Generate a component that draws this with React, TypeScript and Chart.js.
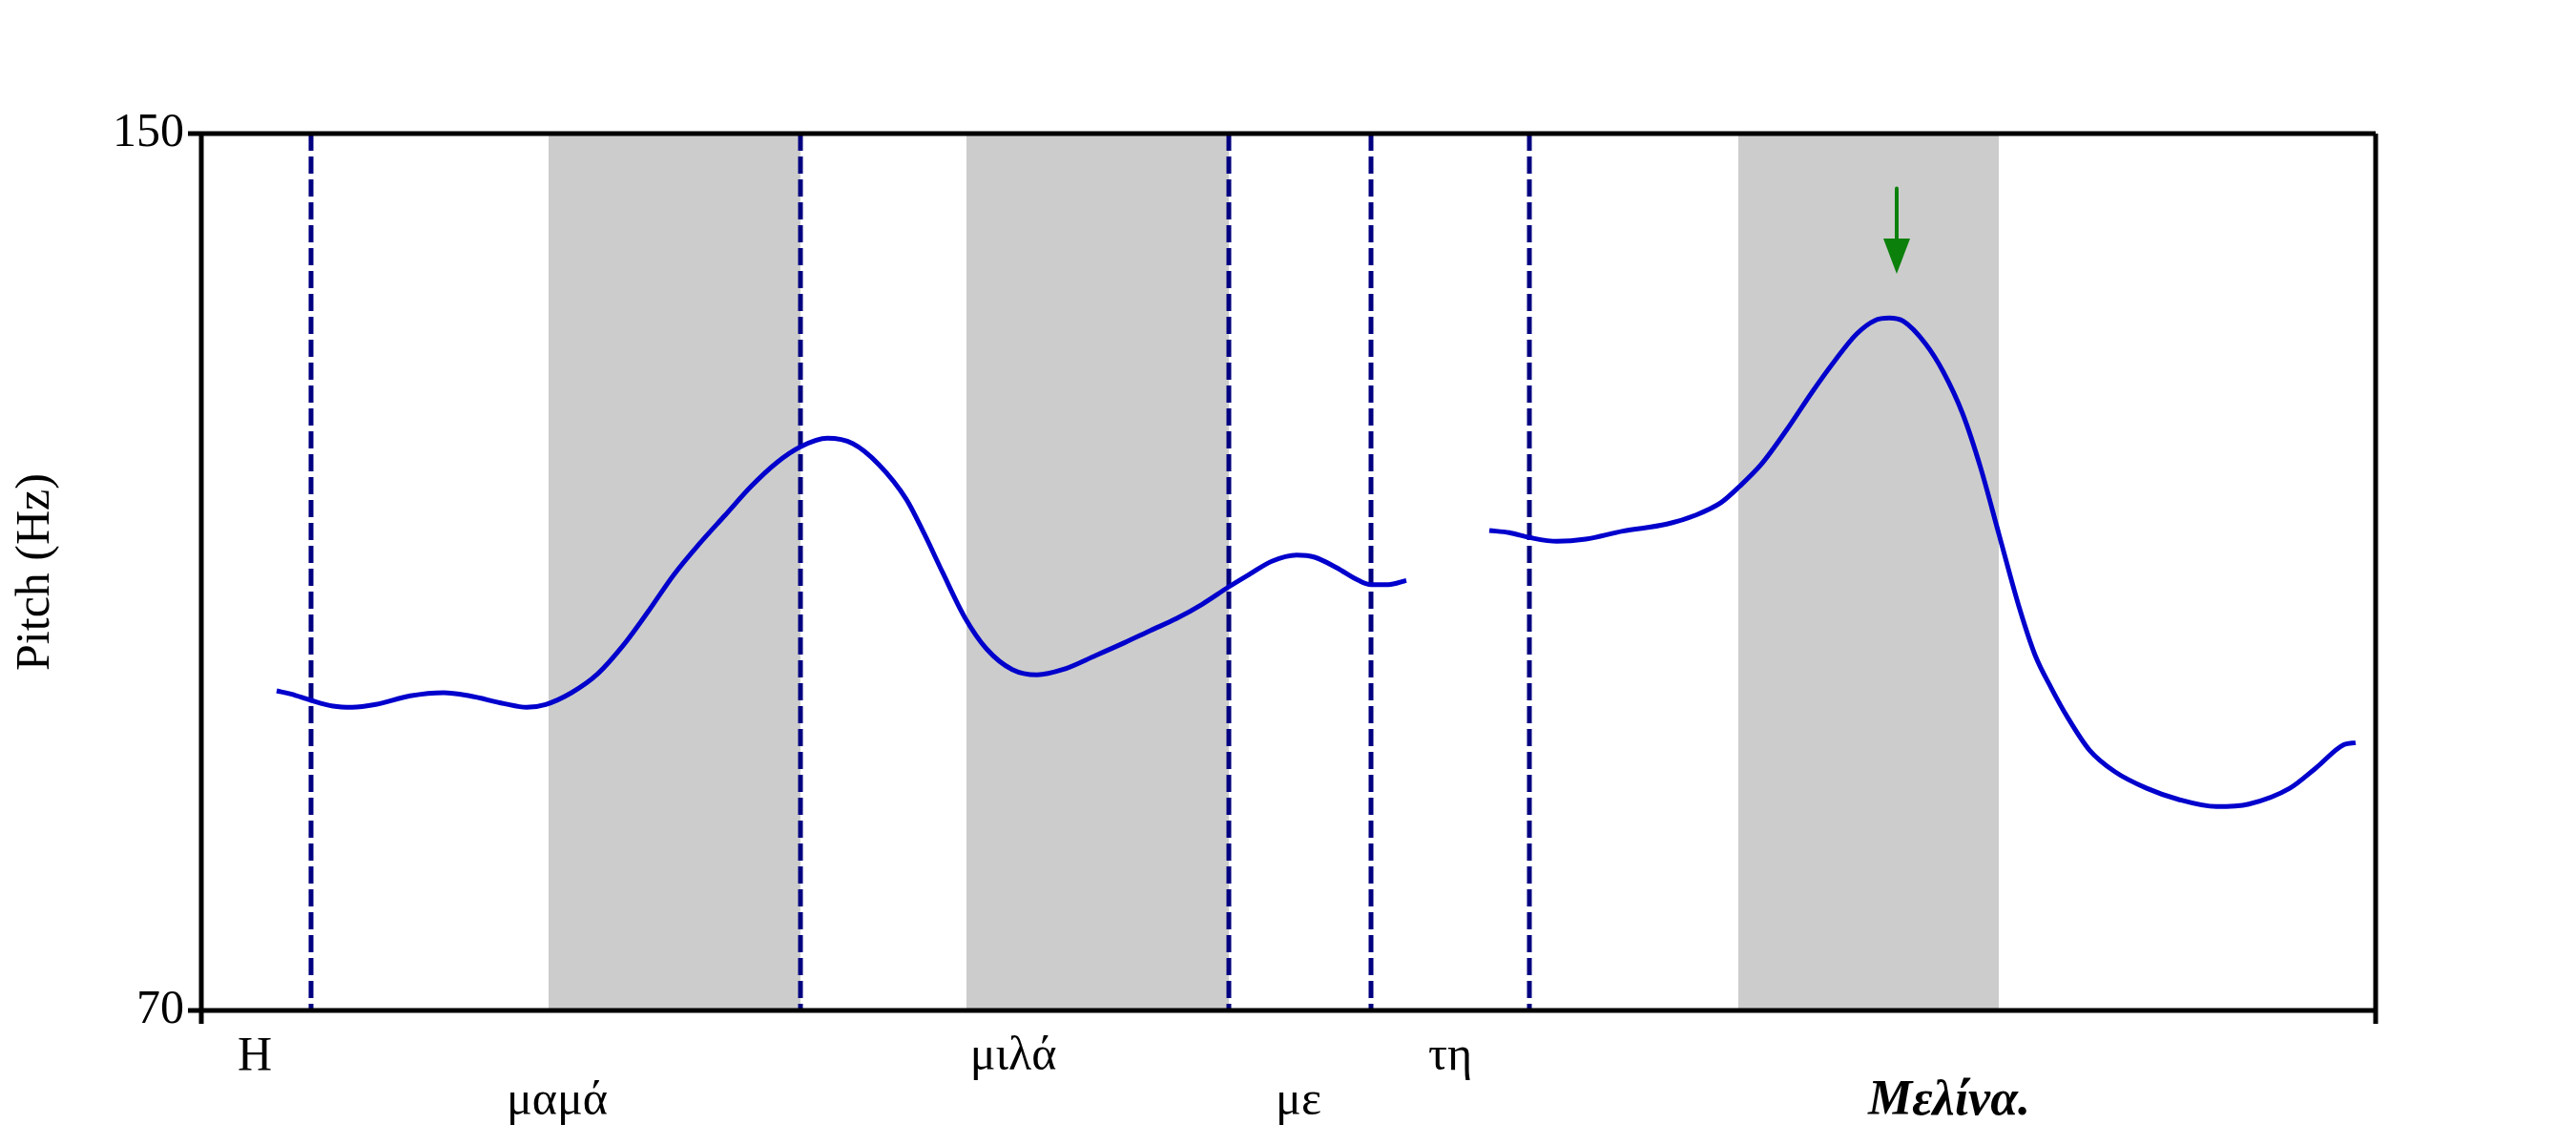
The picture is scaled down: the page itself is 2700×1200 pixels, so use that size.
import React, { useEffect, useRef } from "react";
import { Chart, registerables } from "chart.js";

Chart.register(...registerables);

// time in ms from the left edge of the plot, pitch in Hz
const seg1Time = [79, 94, 115, 138, 158, 183, 219, 254, 281, 317, 341, 361, 388, 415, 442, 469, 495, 522, 549, 576, 603, 628, 656, 683, 710, 739, 758, 777, 800, 823, 850, 876, 903, 938, 968, 995, 1022, 1049, 1077, 1099, 1122, 1148, 1167, 1190, 1213, 1226, 1244, 1263];
const seg1Hz = [99.16, 98.87, 98.29, 97.77, 97.66, 97.92, 98.7, 98.99, 98.7, 98.0, 97.66, 97.92, 98.99, 100.67, 103.28, 106.47, 109.72, 112.57, 115.18, 117.79, 119.97, 121.42, 122.2, 121.71, 119.82, 116.63, 113.44, 109.96, 105.89, 102.99, 101.1, 100.62, 101.1, 102.41, 103.57, 104.67, 105.75, 107.06, 108.65, 109.81, 110.98, 111.55, 111.35, 110.39, 109.23, 108.85, 108.85, 109.23];

const seg2Time = [1350, 1371, 1392, 1421, 1451, 1490, 1536, 1566, 1593, 1612, 1635, 1662, 1689, 1712, 1735, 1754, 1769, 1784, 1807, 1826, 1846, 1865, 1884, 1906, 1922, 1939, 1956, 1979, 2006, 2039, 2072, 2112, 2146, 2189, 2216, 2246, 2258];
const seg2Hz = [113.79, 113.59, 113.15, 112.8, 113.0, 113.73, 114.37, 115.18, 116.34, 117.79, 119.82, 123.01, 126.5, 129.26, 131.72, 132.94, 133.17, 132.88, 130.85, 128.24, 124.47, 119.5, 113.5, 106.6, 102.43, 99.42, 96.76, 93.76, 91.76, 90.27, 89.26, 88.6, 88.83, 90.27, 92.09, 94.26, 94.43];

const boundaryTimes = [115, 628, 1077, 1226, 1392];
const bandStarts = [364, 802, 1611];
const bandEnds = [628, 1077, 1884];

const words = ["Η", "μαμά", "μιλά", "με", "τη", "Μελίνα."];
const wordTimes = [56, 373, 851, 1150, 1309, 1832];
const wordRows = [0, 1, 0, 1, 0, 1];

const arrowTime = 1777;
const arrowTopHz = 145.0;
const arrowTipHz = 137.2;

const yTickValues = [70, 150];
const timeMin = 0;
const timeMax = 2279;

const FONT = "'Liberation Serif', 'Times New Roman', serif";

const decorPlugin = {
  id: "decor",
  beforeDatasetsDraw(chart: any) {
    const { ctx, chartArea, scales } = chart;
    const xs = scales.x;
    ctx.save();
    ctx.fillStyle = "#cccccc";
    for (let i = 0; i < bandStarts.length; i++) {
      const a = xs.getPixelForValue(bandStarts[i]);
      const b = xs.getPixelForValue(bandEnds[i]);
      ctx.fillRect(a, chartArea.top, b - a, chartArea.bottom - chartArea.top);
    }
    ctx.strokeStyle = "#000080";
    ctx.lineWidth = 5;
    ctx.setLineDash([18, 6]);
    for (const t of boundaryTimes) {
      const x = Math.round(xs.getPixelForValue(t));
      ctx.beginPath();
      ctx.moveTo(x, chartArea.top);
      ctx.lineTo(x, chartArea.bottom);
      ctx.stroke();
    }
    ctx.restore();
  },
  afterDatasetsDraw(chart: any) {
    const { ctx, scales } = chart;
    const x = scales.x.getPixelForValue(arrowTime);
    const yTop = scales.y.getPixelForValue(arrowTopHz);
    const yTip = scales.y.getPixelForValue(arrowTipHz);
    const headLen = 37;
    ctx.save();
    ctx.strokeStyle = "#0b800b";
    ctx.fillStyle = "#0b800b";
    ctx.lineWidth = 4;
    ctx.lineCap = "round";
    ctx.beginPath();
    ctx.moveTo(x, yTop);
    ctx.lineTo(x, yTip - headLen + 2);
    ctx.stroke();
    ctx.beginPath();
    ctx.moveTo(x - 14, yTip - headLen);
    ctx.lineTo(x + 14, yTip - headLen);
    ctx.lineTo(x, yTip);
    ctx.closePath();
    ctx.fill();
    ctx.restore();
  },
  afterDraw(chart: any) {
    const { ctx, chartArea, scales } = chart;
    const { left, right, top, bottom } = chartArea;
    ctx.save();
    ctx.strokeStyle = "#000";
    ctx.lineCap = "butt";
    ctx.lineWidth = 5;
    ctx.beginPath();
    ctx.moveTo(left - 14, top);
    ctx.lineTo(right, top);
    ctx.moveTo(left - 14, bottom);
    ctx.lineTo(right, bottom);
    ctx.moveTo(left, top);
    ctx.lineTo(left, bottom + 14);
    ctx.moveTo(right, top);
    ctx.lineTo(right, bottom + 14);
    ctx.stroke();

    ctx.fillStyle = "#000";
    ctx.textAlign = "center";
    ctx.textBaseline = "alphabetic";
    const rowY = [bottom + 62, bottom + 109];
    for (let i = 0; i < words.length; i++) {
      const italic = i === words.length - 1;
      ctx.font = (italic ? "italic bold 52px " : "50px ") + FONT;
      ctx.fillText(words[i], scales.x.getPixelForValue(wordTimes[i]), rowY[wordRows[i]]);
    }
    ctx.restore();
  },
};

export default function App() {
  const canvasRef = useRef<HTMLCanvasElement | null>(null);

  useEffect(() => {
    const canvas = canvasRef.current;
    if (!canvas) return;
    const chart = new Chart(canvas, {
      type: "line",
      data: {
        datasets: [
          {
            data: seg1Time.map((t, i) => ({ x: t, y: seg1Hz[i] })),
            borderColor: "#0000cd",
            borderWidth: 5,
            pointRadius: 0,
            cubicInterpolationMode: "monotone",
            fill: false,
          },
          {
            data: seg2Time.map((t, i) => ({ x: t, y: seg2Hz[i] })),
            borderColor: "#0000cd",
            borderWidth: 5,
            pointRadius: 0,
            cubicInterpolationMode: "monotone",
            fill: false,
          },
        ],
      },
      options: {
        animation: false,
        responsive: false,
        devicePixelRatio: 1,
        layout: { padding: { left: 0, top: 140, right: 210, bottom: 141 } },
        plugins: { legend: { display: false }, tooltip: { enabled: false } },
        scales: {
          x: {
            type: "linear",
            min: timeMin,
            max: timeMax,
            display: false,
          },
          y: {
            type: "linear",
            min: yTickValues[0],
            max: yTickValues[yTickValues.length - 1],
            afterBuildTicks: (scale: any) => {
              scale.ticks = yTickValues.map((v) => ({ value: v }));
            },
            afterFit: (scale: any) => {
              scale.width = 211;
            },
            grid: { display: false, drawTicks: false },
            border: { display: false },
            ticks: {
              color: "#000",
              padding: 18,
              font: { family: FONT, size: 50 },
            },
            title: {
              display: true,
              text: "Pitch (Hz)",
              color: "#000",
              font: { family: FONT, size: 50 },
              padding: { top: 8, bottom: 0 },
            },
          },
        },
      },
      plugins: [decorPlugin],
    } as any);
    return () => chart.destroy();
  }, []);

  return (
    <div style={{ position: "absolute", left: 0, top: 0, width: 2700, height: 1200, background: "#fff" }}>
      <canvas ref={canvasRef} width={2700} height={1200} />
    </div>
  );
}
